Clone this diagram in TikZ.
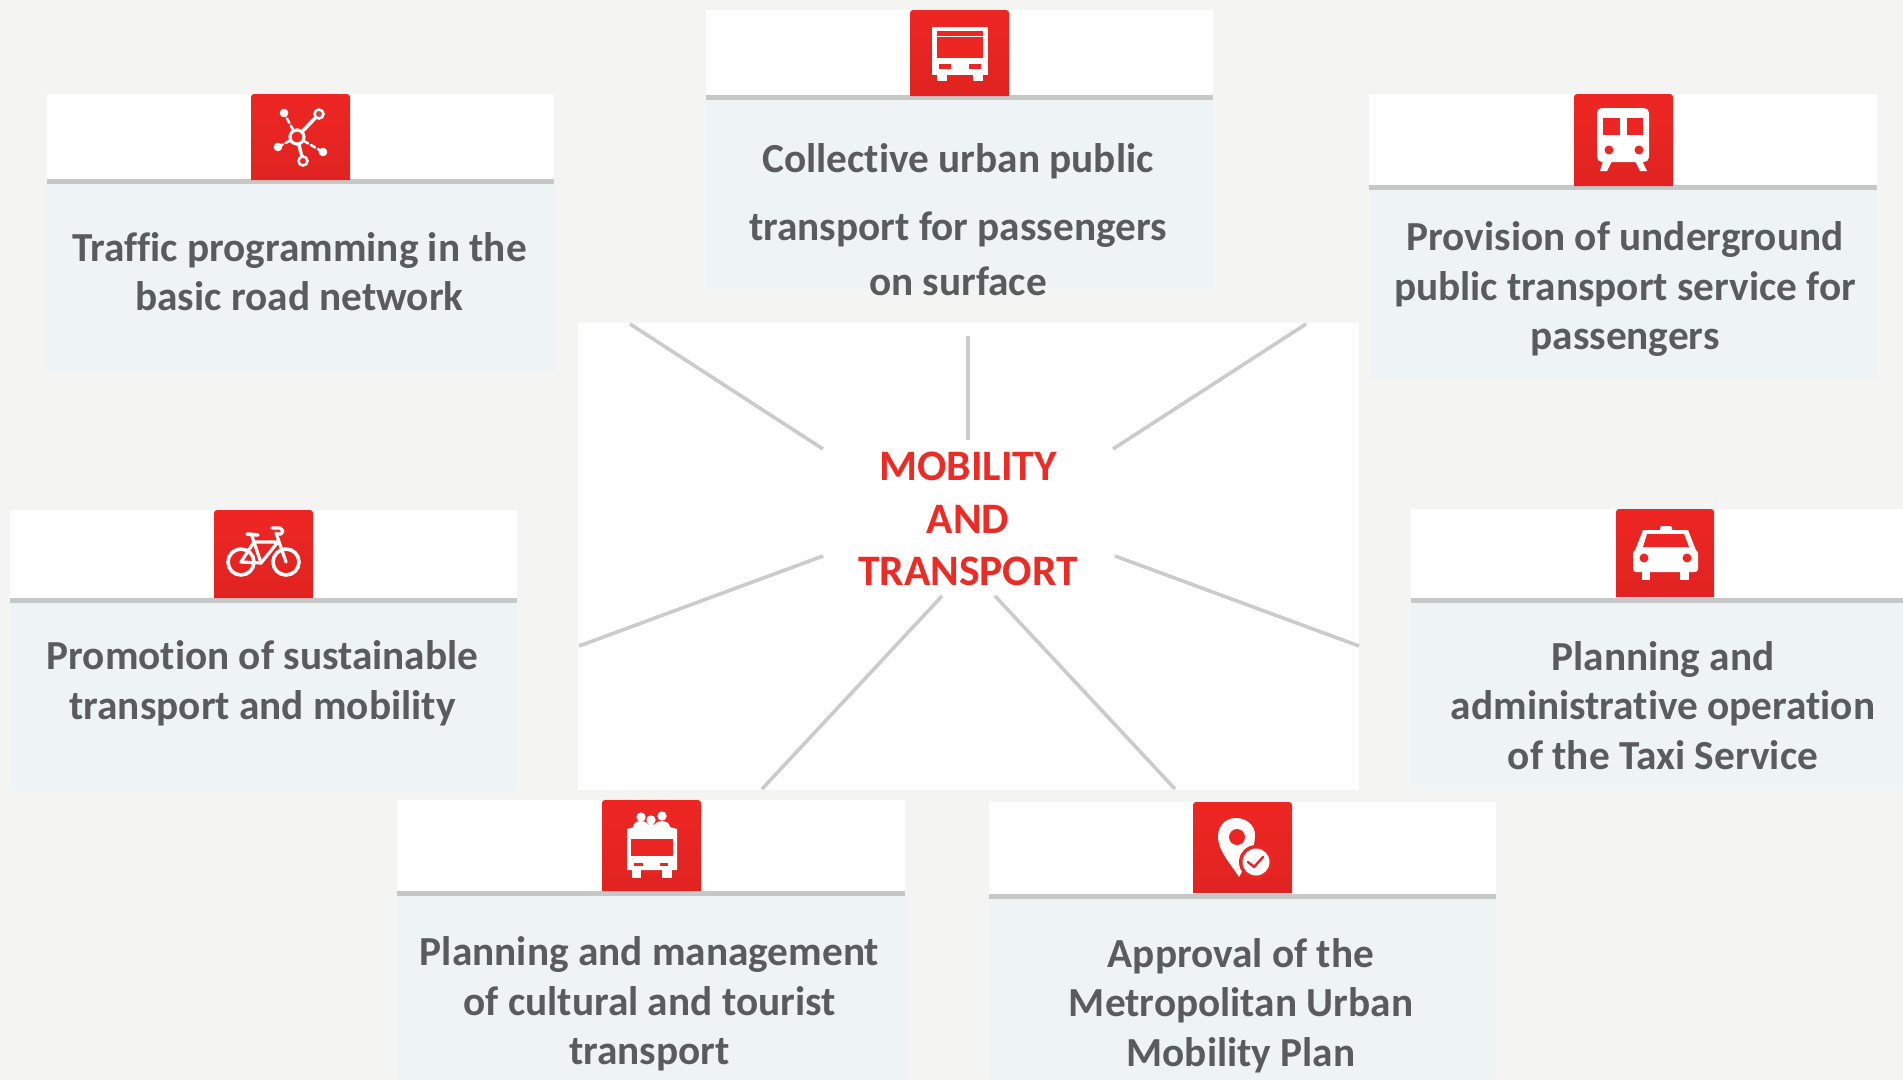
\documentclass[tikz,border=0pt]{standalone}
\usepackage{fontspec}
\setmainfont[Ligatures=NoCommon]{Carlito}
\definecolor{pagebg}{HTML}{F4F4F3}
\definecolor{cardbody}{HTML}{EEF3F5}
\definecolor{rulegrey}{HTML}{C6C8C7}
\definecolor{iconred}{HTML}{EE2623}
\definecolor{labelgrey}{HTML}{5A5B5C}
\definecolor{titlered}{HTML}{EE2A24}
\definecolor{spokegrey}{HTML}{CBCBCB}
\tikzset{
  x=1pt,y=-1pt,
  cardtext/.style={font=\fontsize{41.3}{49.5}\selectfont\bfseries,text=labelgrey,align=center,inner sep=0pt},
  titletext/.style={font=\fontsize{43.5}{52.3}\selectfont\bfseries,text=titlered,align=center,inner sep=0pt},
  spoke/.style={draw=spokegrey,line width=3.6pt},
  wht/.style={fill=white,draw=none},
  rd/.style={fill=iconred,draw=none},
  wline/.style={draw=white,line cap=round,line join=round},
}
% x0 x1 ytop yrule ybot iconx0 iconx1 icontop iconbottom
\newcommand{\cardbox}[9]{%
  \fill[white] (#1,#3) rectangle (#2,#4);
  \fill[cardbody] (#1,#4) rectangle (#2,#5);
  \fill[rulegrey] (#1,#4-2) rectangle (#2,#4+2.5);
  \path[top color=iconred,bottom color=iconred!94!black]
    (#6,#9) [rounded corners=3] -- (#6,#8) -- (#7,#8) [sharp corners] -- (#7,#9) -- cycle;
}
\begin{document}
\begin{tikzpicture}
\useasboundingbox (0,0) rectangle (1903,1080);
\fill[pagebg] (0,0) rectangle (1903,1080);

% centre panel
\fill[white] (578,323) rectangle (1359,790);

% cards
\cardbox{47}{554}{94}{181}{372}{251}{350}{94}{180}
\cardbox{706}{1213}{10}{97}{289}{910}{1009}{10}{96}
\cardbox{1369}{1877}{94}{187}{380}{1574}{1673}{94}{186}
\cardbox{10}{517}{510}{600}{791}{214}{313}{510}{598}
\cardbox{1411}{1903}{509}{600}{790}{1616}{1714}{509}{597}
\cardbox{397}{905}{800}{893}{1080}{602}{701}{800}{891}
\cardbox{989}{1496}{802}{896}{1080}{1193}{1292}{802}{893}

% network icon
\begin{scope}[shift={(252,94)}]
  \draw[wline,line width=3.5] (45,43) -- (67,20);
  \draw[wline,line width=3.5] (45,43) -- (51,67);
  \draw[wline,line width=2.5,dash pattern=on 5pt off 3pt] (45,43) -- (32,19);
  \draw[wline,line width=2.5,dash pattern=on 5pt off 3pt] (45,43) -- (26,53);
  \draw[wline,line width=2.5,dash pattern=on 5pt off 3pt] (45,43) -- (71,58);
  \fill[iconred,draw=white,line width=3.2] (45,43) circle[radius=7];
  \fill[iconred!65!gray,draw=white,line width=2.5] (67,20) circle[radius=4.5];
  \fill[iconred,draw=white,line width=2.5] (51,67) circle[radius=4.5];
  \fill[white] (32,19) circle[radius=4.3];
  \fill[white] (26,53) circle[radius=4.3];
  \fill[white] (71,58) circle[radius=4.3];
\end{scope}

% bus icon
\begin{scope}[shift={(910,10)}]
  \fill[wht] (22,17) rectangle (78,65);
  \fill[wht] (27,65) rectangle (37,71);
  \fill[wht] (63,65) rectangle (73,71);
  \fill[rd] (27,21) rectangle (73,48);
  \fill[wht] (27,26) rectangle (73,27);
  \fill[rd] (29,54) rectangle (41,59);
  \fill[rd] (59,54) rectangle (71,59);
\end{scope}

% metro icon
\begin{scope}[shift={(1574,94)}]
  \fill[wht,rounded corners=5] (23,14) rectangle (75,68);
  \fill[rd] (29,24) rectangle (46,41);
  \fill[rd] (53,24) rectangle (69,41);
  \fill[rd] (35,56) circle[radius=4.5];
  \fill[rd] (65,56) circle[radius=4.5];
  \fill[wht] (29,67) -- (26,77) -- (33,77) -- (38,67) -- cycle;
  \fill[wht] (61,67) -- (66,77) -- (73,77) -- (68,67) -- cycle;
\end{scope}

% bicycle icon
\begin{scope}[shift={(214,510)}]
  \draw[white,line width=3.6] (27,52) circle[radius=13];
  \draw[white,line width=3.6] (72,52) circle[radius=13];
  \draw[wline,line width=3.2] (27,52) -- (40,32) -- (64,32) -- (47,53) -- cycle;
  \draw[wline,line width=3.2] (38,26) -- (47,53);
  \draw[wline,line width=3.2] (72,52) -- (62,23);
  \draw[wline,line width=3.2] (58,18) -- (66,18) -- (69,21) -- (67,24) -- (62,24);
  \draw[wline,line width=3.6] (33,24) -- (44,25);
\end{scope}

% taxi icon
\begin{scope}[shift={(1616,509)}]
  \fill[wht,rounded corners=2] (44,17) rectangle (56,23);
  \fill[wht] (27,21) -- (72,21) -- (81,44) -- (18,44) -- cycle;
  \fill[wht,rounded corners=3] (17,41) rectangle (82,63);
  \fill[wht] (26,60) rectangle (34,71);
  \fill[wht] (64,60) rectangle (73,71);
  \fill[rd] (31,25) -- (68,25) -- (73,38) -- (27,38) -- cycle;
  \fill[rd] (28,49) circle[radius=4.5];
  \fill[rd] (71,49) circle[radius=4.5];
\end{scope}

% tourist bus icon
\begin{scope}[shift={(602,800)}]
  \fill[wht] (39,17) circle[radius=4.7];
  \fill[wht] (60,16) circle[radius=4.7];
  \fill[wht] (49,20) circle[radius=4.7];
  \fill[wht] (39,27) ellipse[x radius=8,y radius=6];
  \fill[wht] (60,27) ellipse[x radius=8,y radius=6];
  \fill[wht] (49,29) ellipse[x radius=8,y radius=5];
  \fill[wht] (25,29) -- (32,27) -- (68,27) -- (75,29) -- (75,70) -- (25,70) -- cycle;
  \fill[wht] (30,70) rectangle (39,78);
  \fill[wht] (60,70) rectangle (70,78);
  \fill[rd] (29,39) rectangle (71,56);
  \fill[rd] (32,63) rectangle (41,66);
  \fill[rd] (58,63) rectangle (66,66);
\end{scope}

% pin icon
\begin{scope}[shift={(1193,802)}]
  \fill[wht] (46,75) .. controls (38,62) and (24,48) .. (25,33)
    .. controls (26,22) and (34,16) .. (43,16)
    .. controls (53,16) and (62,23) .. (62,33)
    .. controls (62,48) and (53,62) .. (46,75) -- cycle;
  \fill[rd] (44,35) circle[radius=8];
  \fill[rd] (63,60) circle[radius=17];
  \fill[wht] (63,60) circle[radius=13.5];
  \draw[iconred,line width=2.4,line cap=round,line join=round] (55,60) -- (61,65) -- (70,55);
\end{scope}

% labels
\node[cardtext] (traffic) at (299.5,271.5) {Traffic programming in the\\basic road network};
\node[cardtext] (collective) at (958,219.5) {Collective urban public\\[19pt]transport for passengers\\[5pt]on surface};
\node[cardtext] (underground) at (1625,289.5) {Provision of underground\\public transport service for\\passengers};
\node[cardtext] (sustainable) at (262.5,683) {Promotion of sustainable\\transport and mobility};
\node[cardtext] (taxi) at (1663,705.5) {Planning and\\administrative operation\\of the Taxi Service};
\node[cardtext] (cultural) at (649.5,1004) {Planning and management\\of cultural and tourist\\transport};
\node[cardtext] (approval) at (1241,1005.5) {Approval of the\\Metropolitan Urban\\Mobility Plan};
\node[titletext] (centre) at (968,519) {MOBILITY\\AND\\TRANSPORT};

% spokes
\coordinate (s1a) at (630,324); \coordinate (s1b) at (823,449);
\coordinate (s2a) at (968,336); \coordinate (s2b) at (968,440);
\coordinate (s3a) at (1306,324); \coordinate (s3b) at (1113,449);
\coordinate (s4a) at (579,646); \coordinate (s4b) at (823,556);
\coordinate (s5a) at (1359,646); \coordinate (s5b) at (1115,556);
\coordinate (s6a) at (762,789); \coordinate (s6b) at (942,596);
\coordinate (s7a) at (1175,789); \coordinate (s7b) at (995,596);
\foreach \n in {1,...,7} \draw[spoke] (s\n a) -- (s\n b);
\end{tikzpicture}
\end{document}
